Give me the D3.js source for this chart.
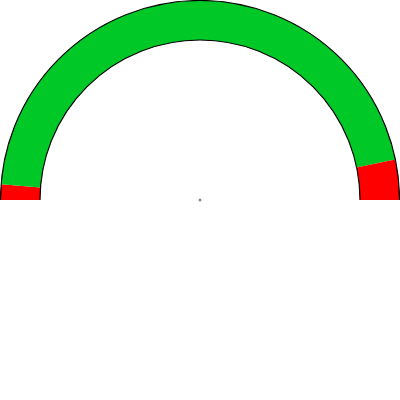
<!DOCTYPE html>
<html><head><meta charset="utf-8">
<script src="https://cdn.jsdelivr.net/npm/d3@7"></script>
<style>html,body{margin:0;padding:0;background:#fff;}svg{display:block;}</style>
</head><body>
<svg id="chart" width="400" height="400"></svg>
<script>
const gaugeMin = 0;
const gaugeMax = 100;
const bandStarts = [0, 2.5, 93.5];
const bandEnds = [2.5, 93.5, 100];
const bandColors = ["#ff0000", "#00c826", "#ff0000"];
const needleValue = [0];

const W = 400, H = 400;
const cx = 200, cy = 200, rOuter = 199.5, rInner = 160;
const svg = d3.select("#chart");
const g = svg.append("g").attr("transform", `translate(${cx},${cy})`);

const angle = d3.scaleLinear().domain([gaugeMin, gaugeMax]).range([-Math.PI/2, Math.PI/2]);
const bands = bandStarts.map((s,i)=>({s, e: bandEnds[i], c: bandColors[i]}));
const arc = d3.arc().innerRadius(rInner).outerRadius(rOuter);

g.selectAll("path.band").data(bands).join("path")
  .attr("class","band")
  .attr("d", d => arc({startAngle: angle(d.s), endAngle: angle(d.e)}))
  .attr("fill", d => d.c);

const outline = d3.arc();
[rOuter, rInner].forEach(r => {
  g.append("path")
    .attr("d", d3.arc().innerRadius(r).outerRadius(r)({startAngle: angle(gaugeMin), endAngle: angle(gaugeMax)}))
    .attr("fill","none").attr("stroke","#000").attr("stroke-width",1.2);
});

g.append("circle").attr("r",1.5).attr("fill","#888");
</script>
</body></html>
